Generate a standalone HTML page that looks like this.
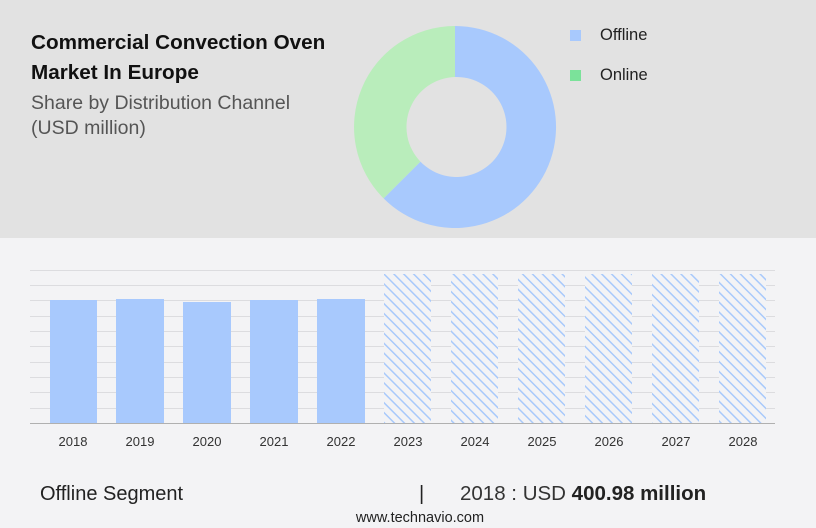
<!DOCTYPE html>
<html><head><style>
body{margin:0;width:816px;height:528px;background:#f3f3f5;font-family:"Liberation Sans",sans-serif;position:relative;overflow:hidden}
.top{position:absolute;left:0;top:0;width:816px;height:238px;background:#e2e2e2}
.t{position:absolute;left:31px;font-weight:bold;font-size:20.7px;color:#111}
.s{position:absolute;left:31px;font-size:19.5px;color:#555}
</style></head><body>
<div class="top"></div>
<div class="t" style="top:31px">Commercial Convection Oven</div>
<div class="t" style="top:61px">Market In Europe</div>
<div class="s" style="top:92px">Share by Distribution Channel</div>
<div class="s" style="top:117px">(USD million)</div>
<svg style="position:absolute;left:0;top:0" width="816" height="528">
<defs>
<pattern id="h" patternUnits="userSpaceOnUse" width="7" height="7" patternTransform="rotate(-45)">
<rect width="7" height="7" fill="#f3f3f5"/><rect x="0" width="1.5" height="7" fill="#a8c9fb"/></pattern>
<clipPath id="c"><rect x="0" y="0" width="816" height="228"/></clipPath>
</defs>
<g clip-path="url(#c)">
<path d="M455 26 A101 101 0 1 1 383.6 198.4 L420.4 161.6 A50 50 0 1 0 455 77 Z" fill="#a8c9fd"/>
<path d="M383.6 198.4 A101 101 0 0 1 455 26 L455 77 A50 50 0 0 0 420.4 161.6 Z" fill="#b9edbb"/>
</g>
<rect x="570" y="30" width="11" height="11" fill="#a8c9fd"/>
<rect x="570" y="70" width="11" height="11" fill="#7be29a"/>
<text x="600" y="40" font-size="16.5" fill="#222">Offline</text>
<text x="600" y="80" font-size="16.5" fill="#222">Online</text>
<g stroke="#dcdcdf" stroke-width="1">
<line x1="30" x2="775" y1="270.5" y2="270.5"/><line x1="30" x2="775" y1="285.5" y2="285.5"/>
<line x1="30" x2="775" y1="300.5" y2="300.5"/><line x1="30" x2="775" y1="316.5" y2="316.5"/>
<line x1="30" x2="775" y1="331.5" y2="331.5"/><line x1="30" x2="775" y1="346.5" y2="346.5"/>
<line x1="30" x2="775" y1="362.5" y2="362.5"/><line x1="30" x2="775" y1="377.5" y2="377.5"/>
<line x1="30" x2="775" y1="392.5" y2="392.5"/><line x1="30" x2="775" y1="408.5" y2="408.5"/>
</g>
<g fill="#a8c9fd">
<rect x="50" y="300" width="47" height="123"/><rect x="116" y="299" width="48" height="124"/>
<rect x="183" y="302" width="48" height="121"/><rect x="250" y="300" width="48" height="123"/>
<rect x="317" y="299" width="48" height="124"/>
</g>
<g fill="url(#h)">
<rect x="384" y="274" width="47" height="149"/><rect x="451" y="274" width="47" height="149"/>
<rect x="518" y="274" width="47" height="149"/><rect x="585" y="274" width="47" height="149"/>
<rect x="652" y="274" width="47" height="149"/><rect x="719" y="274" width="47" height="149"/>
</g>
<line x1="30" x2="775" y1="423.5" y2="423.5" stroke="#b0b0b0"/>
<g font-size="13" fill="#333" text-anchor="middle">
<text x="73" y="446">2018</text><text x="140" y="446">2019</text><text x="207" y="446">2020</text>
<text x="274" y="446">2021</text><text x="341" y="446">2022</text><text x="408" y="446">2023</text>
<text x="475" y="446">2024</text><text x="542" y="446">2025</text><text x="609" y="446">2026</text>
<text x="676" y="446">2027</text><text x="743" y="446">2028</text>
</g>
<text x="40" y="500" font-size="20" fill="#222">Offline Segment</text>
<text x="419" y="500" font-size="20" fill="#222">|</text>
<text x="460" y="500" font-size="20.5" fill="#333">2018 : USD <tspan font-weight="bold" fill="#222">400.98 million</tspan></text>
<text x="420" y="522" font-size="14.5" fill="#222" text-anchor="middle">www.technavio.com</text>
</svg>
</body></html>
